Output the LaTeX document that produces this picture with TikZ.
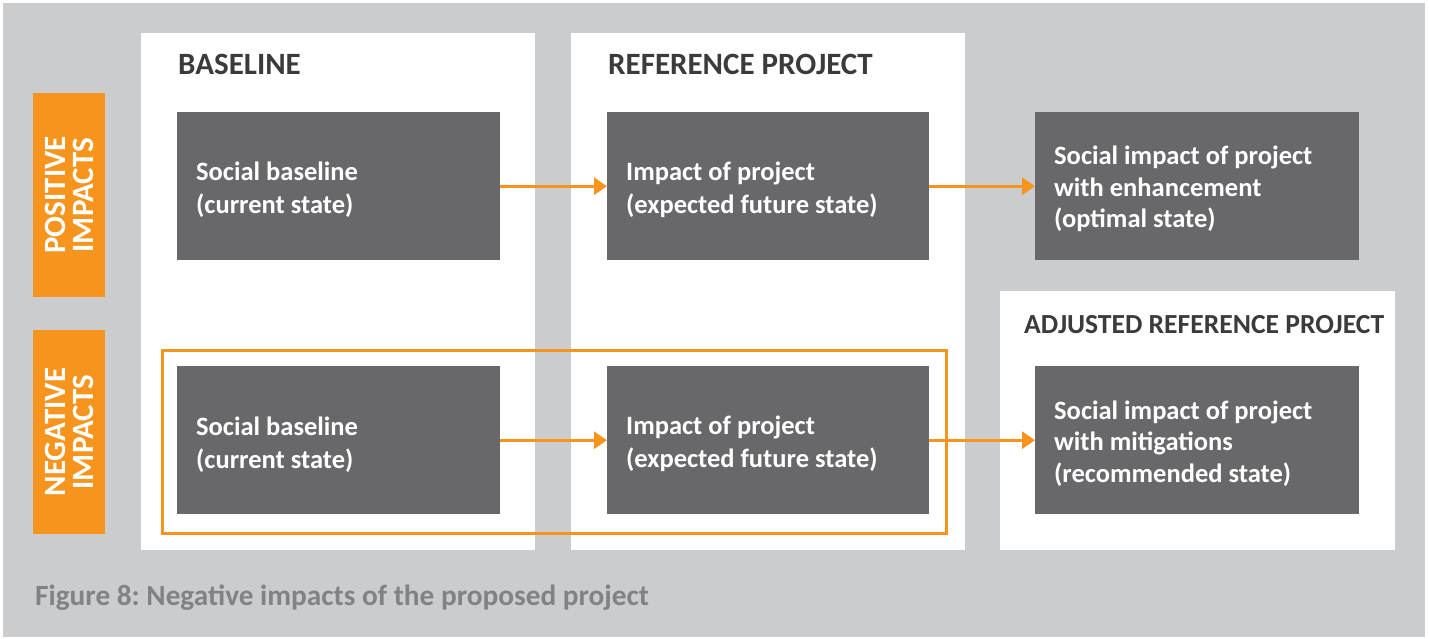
\documentclass[tikz,border=0pt]{standalone}
\usepackage{fontspec}
\setmainfont{Carlito}
\usetikzlibrary{arrows.meta}
\definecolor{bg}{HTML}{CBCCCE}
\definecolor{dark}{HTML}{68686A}
\definecolor{org}{HTML}{F7941D}
\definecolor{ttl}{HTML}{3B3B3D}
\definecolor{capc}{HTML}{808285}
\frenchspacing
\begin{document}
\begin{tikzpicture}[x=1pt,y=-1pt,
  panel/.style={fill=white,draw=none,inner sep=0pt,anchor=north west},
  darkbox/.style={fill=dark,minimum width=323pt,minimum height=148pt,inner sep=0pt,anchor=north west},
  boxtext/.style={text=white,font=\fontsize{26.5}{33}\selectfont\bfseries,align=left,
    inner sep=0pt,anchor=west},
  ttlnode/.style={text=ttl,font=\fontsize{31}{34}\selectfont\bfseries,inner sep=0pt,anchor=base west},
  side/.style={fill=org,text=white,font=\fontsize{31}{28}\selectfont\bfseries,align=center,
    rotate=90,minimum width=204pt,minimum height=72pt,inner sep=0pt},
  arr/.style={draw=org,line width=3pt,-{Triangle[length=13pt,width=17pt]}},
]
\useasboundingbox (0,0) rectangle (1429,638);
\fill[white] (0,0) rectangle (1429,638);
\node[fill=bg,inner sep=0pt,minimum width=1422pt,minimum height=634pt,anchor=north west] (bgbox) at (3,3) {};
% panels
\node[panel,minimum width=394pt,minimum height=517pt] (pbase) at (141,33) {};
\node[panel,minimum width=394pt,minimum height=517pt] (pref) at (571,33) {};
\node[panel,minimum width=395pt,minimum height=259pt] (padj) at (1000,291) {};
% titles
\node[ttlnode] (tbase) at (178,74) {BASELINE};
\node[ttlnode] (tref) at (608,74) {REFERENCE PROJECT};
\node[ttlnode,font=\fontsize{27.6}{32}\selectfont\bfseries] (tadj) at (1024,333) {ADJUSTED REFERENCE PROJECT};
% side labels
\node[side] (pos) at (69,195) {POSITIVE\\IMPACTS};
\node[side] (neg) at (69,432) {NEGATIVE\\IMPACTS};
% orange frame
\node[draw=org,line width=3pt,inner sep=0pt,minimum width=784pt,minimum height=183pt,anchor=north west] (frame) at (161,349) {};
% dark boxes
\node[darkbox] (b1) at (177,112) {};
\node[darkbox,minimum width=322pt] (b2) at (607,112) {};
\node[darkbox,minimum width=324pt] (b3) at (1035,112) {};
\node[darkbox] (b4) at (177,366) {};
\node[darkbox,minimum width=322pt] (b5) at (607,366) {};
\node[darkbox,minimum width=324pt] (b6) at (1035,366) {};
% box texts
\node[boxtext] (t1) at ([xshift=19pt,yshift=-4pt]b1.west) {Social baseline\\(current state)};
\node[boxtext] (t2) at ([xshift=19pt,yshift=-4pt]b2.west) {Impact of project\\(expected future state)};
\node[boxtext,font=\fontsize{26.5}{31.5}\selectfont\bfseries] (t3) at ([xshift=19pt,yshift=-3pt]b3.west) {Social impact of project\\with enhancement\\(optimal state)};
\node[boxtext] (t4) at ([xshift=19pt,yshift=-4pt]b4.west) {Social baseline\\(current state)};
\node[boxtext] (t5) at ([xshift=19pt,yshift=-4pt]b5.west) {Impact of project\\(expected future state)};
\node[boxtext,font=\fontsize{26.5}{31.5}\selectfont\bfseries] (t6) at ([xshift=19pt,yshift=-3pt]b6.west) {Social impact of project\\with mitigations\\(recommended state)};
% arrows
\draw[arr] (b1.east) -- (b2.west);
\draw[arr] (b2.east) -- (b3.west);
\draw[arr] (b4.east) -- (b5.west);
\draw[arr] (b5.east) -- (b6.west);
% caption
\node[text=capc,font=\fontsize{29.3}{32}\selectfont\bfseries,inner sep=0pt,anchor=base west] (cap) at (35,605) {Figure 8: Negative impacts of the proposed project};
\end{tikzpicture}
\end{document}
